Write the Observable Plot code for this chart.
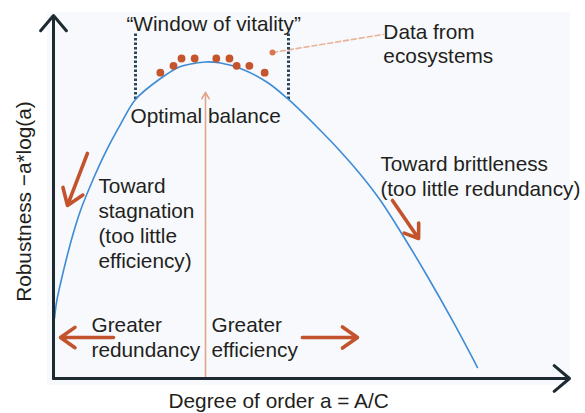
<!DOCTYPE html>
<html>
<head>
<meta charset="utf-8">
<script src="https://cdn.jsdelivr.net/npm/d3@7"></script>
<script src="https://cdn.jsdelivr.net/npm/@observablehq/plot@0.6"></script>
<style>
  html, body { margin: 0; padding: 0; background: #ffffff; }
  svg { display: block; }
</style>
</head>
<body>
<div id="chart"></div>
<script>
// Curve: a = degree of order, r = robustness
const curveA = [0.0024, 0.0071, 0.0165, 0.0307, 0.0472, 0.0637, 0.0873, 0.1226, 0.1580, 0.1934, 0.2524, 0.2995, 0.3302, 0.3585, 0.3939, 0.4410, 0.5047, 0.5542, 0.6226, 0.6769, 0.7241, 0.7712, 0.8255, 0.8821, 0.9434, 1.0000];
const curveR = [0.0698, 0.0885, 0.1106, 0.1397, 0.1699, 0.1956, 0.2247, 0.2631, 0.2957, 0.3248, 0.3492, 0.3632, 0.3667, 0.3685, 0.3673, 0.3609, 0.3446, 0.3248, 0.2922, 0.2643, 0.2375, 0.2072, 0.1653, 0.1187, 0.0652, 0.0128];

// Ecosystem data points
const dotA = [0.252, 0.283, 0.302, 0.333, 0.384, 0.415, 0.432, 0.462, 0.498];
const dotR = [0.356, 0.364, 0.3725, 0.3725, 0.3725, 0.3725, 0.364, 0.364, 0.356];

// Window of vitality bounds
const windowA = [0.1934, 0.5542];
const windowBottom = 0.3248;
const windowTop = 0.402;

// Pointer from "Data from ecosystems"
const pointerA = [0.5165, 0.778];
const pointerR = [0.3795, 0.4005];

// Optimal balance
const optimumA = 0.3585;
const optimumR = 0.333;

// Direction arrows
const dirArrows = [
  {x1: 0.080, y1: 0.262, x2: 0.033, y2: 0.2014},
  {x1: 0.7995, y1: 0.2072, x2: 0.861, y2: 0.163},
  {x1: 0.1415, y1: 0.0477, x2: 0.0165, y2: 0.0477},
  {x1: 0.587, y1: 0.0477, x2: 0.717, y2: 0.0477}
];

// Axis extents
const axisXEnd = 1.217;
const axisYEnd = 0.4226;

// Labels
const labels = [
  {a: 0.172, r: 0.405, t: "\u201cWindow of vitality\u201d"},
  {a: 0.778, r: 0.3667, t: "Data from\necosystems"},
  {a: 0.1816, r: 0.2969, t: "Optimal balance"},
  {a: 0.106, r: 0.1292, t: "Toward\nstagnation\n(too little\nefficiency)"},
  {a: 0.771, r: 0.213, t: "Toward brittleness\n(too little redundancy)"},
  {a: 0.0896, r: 0.0256, t: "Greater\nredundancy"},
  {a: 0.3726, r: 0.0256, t: "Greater\nefficiency"}
];
const xTitle = "Degree of order a = A/C";
const yTitle = "Robustness \u2212a*log(a)";

const curve = curveA.map((a, i) => ({a, r: curveR[i]}));
const dots = dotA.map((a, i) => ({a, r: dotR[i]}));

const textColor = "#231f20";
const rust = "#c4552c";

const chart = Plot.plot({
  width: 585,
  height: 413,
  margin: 0,
  x: {domain: [0, 1.25], range: [53, 583], axis: null},
  y: {domain: [0, 0.44], range: [378, 0], axis: null},
  style: {fontFamily: "'Liberation Sans', Arial, sans-serif", fontSize: "20.8px", background: "#ffffff", color: textColor},
  marks: [
    Plot.rect([0], {x1: -0.014, x2: 1.219, y1: -0.008, y2: 0.426, fill: "#f7f9fc"}),
    Plot.arrow([0], {x1: optimumA, y1: 0, x2: optimumA, y2: optimumR, stroke: "#e3a68a", strokeWidth: 1.6, headLength: 7}),
    Plot.line(pointerA.map((a, i) => ({a, r: pointerR[i]})), {x: "a", y: "r", stroke: "#e8b198", strokeWidth: 1.6, strokeDasharray: "5,3"}),
    Plot.dot([0], {x: pointerA[0], y: pointerR[0], r: 3, fill: "#d9764f"}),
    Plot.ruleX(windowA, {y1: windowBottom, y2: windowTop, stroke: "#2b4858", strokeWidth: 3, strokeDasharray: "2.5,2"}),
    Plot.line(curve, {x: "a", y: "r", curve: "catmull-rom", stroke: "#3f8bd6", strokeWidth: 1.6}),
    Plot.dot(dots, {x: "a", y: "r", r: 3.9, fill: rust}),
    Plot.arrow(dirArrows, {x1: "x1", y1: "y1", x2: "x2", y2: "y2", stroke: "#c2532d", strokeWidth: 3.6, headLength: 11, headAngle: 70}),
    Plot.arrow([0], {x1: 0, y1: 0, x2: axisXEnd, y2: 0, stroke: "#1e2a32", strokeWidth: 3, headLength: 10, headAngle: 80}),
    Plot.arrow([0], {x1: 0, y1: 0, x2: 0, y2: axisYEnd, stroke: "#1e2a32", strokeWidth: 3, headLength: 10, headAngle: 80}),
    Plot.text(labels, {x: "a", y: "r", text: "t", textAnchor: "start", lineAnchor: "bottom", lineHeight: 1.2, fill: textColor}),
    Plot.text([xTitle], {x: 0.531, y: -0.0349, textAnchor: "middle", lineAnchor: "bottom", fill: textColor}),
    Plot.text([yTitle], {x: -0.054, y: 0.206, rotate: -90, textAnchor: "middle", lineAnchor: "bottom", fill: textColor})
  ]
});
document.getElementById("chart").appendChild(chart);
</script>
</body>
</html>
